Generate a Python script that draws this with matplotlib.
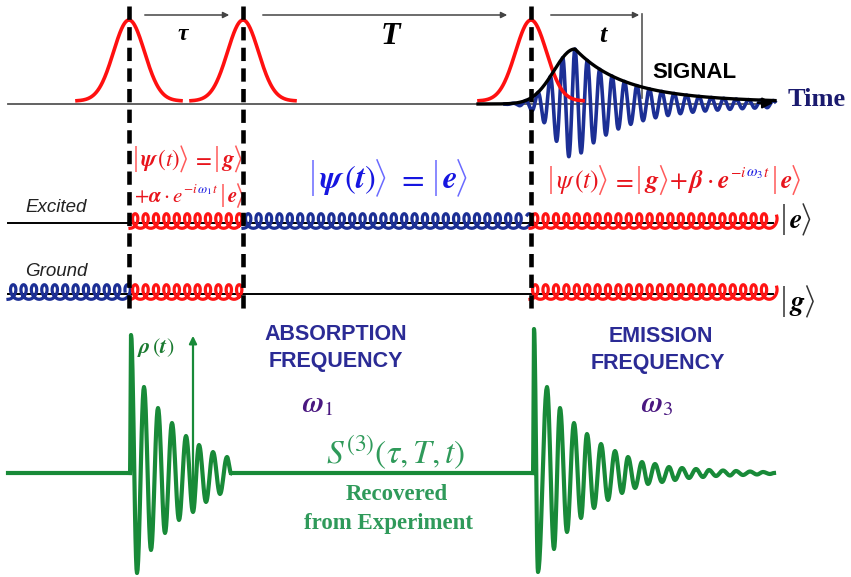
import numpy as np
import matplotlib
matplotlib.use("Agg")
import matplotlib.pyplot as plt
from matplotlib.mathtext import MathTextParser

plt.rcParams['mathtext.fontset'] = 'stix'

# ---------------- data (pixel units) ----------------
pulse_centers = [129, 243, 531]          # pump / probe / local-oscillator pulse centres
pulse_peak_y = 20
pulse_base_y = 101
pulse_sigma = 15.5
pulse_halfspan = 52

delay_labels = ["τ", "T", "t"]
delay_arrows = [(142, 232), (260, 510), (548, 642)]

signal_peak_x = 575
signal_peak_amp = 55
signal_period = 12.4

level_names = ["Excited", "Ground"]
level_y = [223, 294]
coil_segments = [  # (x0, x1, level index, colour key)
    (8, 130, 1, "blue"),
    (130, 243, 0, "red"),
    (130, 243, 1, "red"),
    (243, 530, 0, "blue"),
    (530, 773, 0, "red"),
    (530, 773, 1, "red"),
]

# green response curves: extrema (x, y)
rho1_x = [130, 131, 137, 144, 151, 158, 165, 172, 179, 186, 193, 199, 206, 213, 220, 227, 231]
rho1_y = [473, 335, 573, 387, 550, 408, 533, 423, 520, 436, 512, 445, 502, 452, 494, 457, 473]

rho3_x = [533, 534, 538, 547, 554, 560, 567, 574, 581, 587, 594, 601, 608, 615, 622, 628,
          635, 642, 648, 655, 662, 669, 675, 682, 689, 696, 703, 709, 716, 723, 730, 736,
          743, 750, 757, 763, 770, 774]
rho3_y = [473, 329, 572, 387, 549, 408, 532, 423, 518, 434, 508, 444, 500, 451, 493, 457,
          488, 462, 484, 464, 482, 467, 480, 468, 478, 469, 477, 470, 476, 470.5, 475.5, 471,
          475, 471.5, 474.5, 472, 474, 473]

# ---------------- helpers ----------------
def mt_ok(s):
    try:
        MathTextParser('path').parse(s)
        return True
    except Exception:
        return False

BS = r'\boldsymbol' if mt_ok(r'$\boldsymbol{\psi}$') else r'\mathbf'

RED = '#e8141c'
LRED = '#ff5a5a'
BLUE_EQ = '#1616e0'
LBLUE = '#6a6aff'
NAVY = '#1c2f95'
GREEN = '#188a38'
LGREEN = '#2f9a5a'
PURPLE = '#4a1880'

fig = plt.figure(figsize=(8.51, 5.77), dpi=100)
ax = fig.add_axes([0, 0, 1, 1])
ax.set_xlim(0, 851)
ax.set_ylim(577, 0)
ax.axis('off')
renderer = fig.canvas.get_renderer()


def pieces(x, y, parts, size, color, light):
    """parts: strings (mathtext), 'BAR', 'ANG', 'SP', or tuples (s, color, size, dy)."""
    fpx = size * 100 / 72.0
    for p in parts:
        if p == 'BAR':
            ax.plot([x + 2, x + 2], [y + 0.24 * fpx, y - 0.86 * fpx], color=light, lw=1.1,
                    solid_capstyle='butt')
            x += 0.26 * fpx
        elif p == 'ANG':
            ax.plot([x + 1, x + 0.26 * fpx, x + 1], [y + 0.24 * fpx, y - 0.31 * fpx, y - 0.86 * fpx],
                    color=light, lw=1.1)
            x += 0.36 * fpx
        elif p == 'SP':
            x += 0.14 * fpx
        else:
            if isinstance(p, tuple):
                s, c, sz, dy = p
            else:
                s, c, sz, dy = p, color, size, 0
            t = ax.text(x, y + dy, s, color=c, fontsize=sz, ha='left', va='baseline')
            x += t.get_window_extent(renderer).width


def smooth_through(xs, ys, n=12):
    X, Y = [], []
    for i in range(len(xs) - 1):
        s = np.linspace(0, 1, n, endpoint=False)
        w = (1 - np.cos(np.pi * s)) / 2
        X.append(xs[i] + (xs[i + 1] - xs[i]) * s)
        Y.append(ys[i] + (ys[i + 1] - ys[i]) * w)
    X.append([xs[-1]]); Y.append([ys[-1]])
    return np.concatenate(X), np.concatenate(Y)


def coil(x0, x1, yc, pitch=10.4, rx=5.0, ry=7.3):
    n = (x1 - x0) / pitch
    th = np.linspace(0, 2 * np.pi * n, int(n * 60))
    x = x0 + pitch * th / (2 * np.pi) + rx * np.sin(th)
    y = yc + ry * np.cos(th)
    return x, y


def envelope(x):
    d = x - signal_peak_x
    rise = np.exp(-0.5 * (d / 21.0) ** 2)
    fall = 0.8 * np.exp(-d / 45.0) + 0.2 * np.exp(-d / 150.0)
    return signal_peak_amp * np.where(d < 0, rise, fall)

# ---------------- top: pulse sequence ----------------
ax.plot([8, 762], [104, 104], color='#555555', lw=1.3, zorder=2)
ax.annotate('', xy=(776, 103), xytext=(755, 103),
            arrowprops=dict(arrowstyle='-|>', color='black', lw=1.5, mutation_scale=16), zorder=6)
ax.text(788, 99, "Time", fontsize=19, fontweight='bold', family='Liberation Serif',
        color='#1a1a6e', va='center', ha='left')

xs = np.linspace(505, 775, 1500)
env = envelope(xs)
ax.plot(xs, 104 - env * np.cos(2 * np.pi * (xs - signal_peak_x) / signal_period),
        color=NAVY, lw=2.6, zorder=3)
xe = np.linspace(478, 775, 400)
ax.plot(xe, 104 - envelope(xe), color='black', lw=2.4, zorder=5)

for c in pulse_centers:
    xp = np.linspace(c - pulse_halfspan, c + pulse_halfspan, 200)
    ax.plot(xp, pulse_base_y - (pulse_base_y - pulse_peak_y) * np.exp(-0.5 * ((xp - c) / pulse_sigma) ** 2),
            color='#ff1010', lw=2.6, zorder=4)

for (a, b) in delay_arrows:
    ax.annotate('', xy=(b, 15), xytext=(a, 15),
                arrowprops=dict(arrowstyle='-|>', color='#444444', lw=1.1, mutation_scale=9))
ax.plot([642, 642], [14, 98], color='#555555', lw=1.2)
ax.text(183, 34, delay_labels[0], fontsize=17, fontweight='bold', style='italic',
        family='Liberation Serif', ha='center', va='center')
ax.text(390, 37, delay_labels[1], fontsize=23, fontweight='bold', style='italic',
        family='Liberation Serif', ha='center', va='center')
ax.text(603, 35, delay_labels[2], fontsize=19, fontweight='bold', style='italic',
        family='Liberation Serif', ha='center', va='center')
ax.text(694, 72, "SIGNAL", fontsize=16, fontweight='bold', family='Liberation Sans',
        ha='center', va='center')

# dashed pulse markers
for c in pulse_centers:
    ax.plot([c, c], [6, 313], color='black', lw=3.3, linestyle=(0, (2.9, 1.6)), zorder=8)

# ---------------- middle: levels ----------------
for name, ly in zip(level_names, level_y):
    ax.plot([8, 773], [ly, ly], color='black', lw=1.4, zorder=2)
ax.text(25, 208, level_names[0], fontsize=13.5, style='italic', family='Liberation Sans',
        color='#222222', va='center')
ax.text(25, 272, level_names[1], fontsize=13.5, style='italic', family='Liberation Sans',
        color='#222222', va='center')
cols = {"blue": NAVY, "red": '#ff1414'}
for x0, x1, li, ck in coil_segments:
    cx, cy = coil(x0, x1, level_y[li] - 2)
    ax.plot(cx, cy, color=cols[ck], lw=2.3, zorder=3)

# equations
PSI_B = rf"${BS}{{\psi}}\,(t)$"
E = rf"${BS}{{e}}$"
G = rf"${BS}{{g}}$"
pieces(134, 166, ['BAR', PSI_B, 'ANG', 'SP', r"$=$", 'SP', 'BAR', G, 'ANG'], 16.5, RED, LRED)
pieces(134, 202, [rf"$+{BS}{{\alpha}}\cdot e$",
                  (r"$-i$", RED, 9.5, -9),
                  (rf"${BS}{{\omega_1}}$", BLUE_EQ, 9.5, -9),
                  (r"$t$", RED, 9.5, -9), 'SP',
                  'BAR', E, 'ANG'], 15, RED, LRED)
pieces(311, 188, ['BAR', rf"${BS}{{\psi}}\,({BS}{{t}})$", 'ANG', 'SP', 'SP', r"$=$", 'SP', 'SP',
                  'BAR', E, 'ANG'], 23.5, BLUE_EQ, LBLUE)
pieces(549, 188, ['BAR', r"$\psi\,(t)$", 'ANG', 'SP', r"$=$", 'SP', 'BAR', G, 'ANG',
                  rf"$+\,{BS}{{\beta}}\cdot {BS}{{e}}$",
                  (r"$-i$", RED, 11, -11),
                  (rf"${BS}{{\omega_3}}$", BLUE_EQ, 11, -11),
                  (r"$t$", RED, 11, -11), 'SP',
                  'BAR', E, 'ANG'], 18.5, RED, LRED)
pieces(782, 228, ['BAR', E, 'ANG'], 20, 'black', '#333333')
pieces(782, 310, ['BAR', G, 'ANG'], 20, 'black', '#333333')

# ---------------- bottom: green response ----------------
ax.plot([8, 130], [473, 473], color=GREEN, lw=3.0)
ax.plot([231, 533], [473, 473], color=GREEN, lw=3.0)
gx, gy = smooth_through(rho1_x, rho1_y)
ax.plot(gx, gy, color=GREEN, lw=3.0)
gx, gy = smooth_through(rho3_x, rho3_y)
ax.plot(gx, gy, color=GREEN, lw=3.0)
ax.annotate('', xy=(193, 333), xytext=(193, 512),
            arrowprops=dict(arrowstyle='-|>', color=GREEN, lw=1.6, mutation_scale=11))
ax.text(137, 353, rf"${BS}{{\rho}}\,({BS}{{t}})$", color='#1a7a30', fontsize=16,
        ha='left', va='baseline')

ax.text(336, 334, "ABSORPTION", fontsize=15.5, fontweight='bold', family='Liberation Sans',
        color='#2b2b95', ha='center', va='center')
ax.text(336, 362, "FREQUENCY", fontsize=15.5, fontweight='bold', family='Liberation Sans',
        color='#2b2b95', ha='center', va='center')
ax.text(661, 336, "EMISSION", fontsize=15.5, fontweight='bold', family='Liberation Sans',
        color='#2b2b95', ha='center', va='center')
ax.text(658, 363, "FREQUENCY", fontsize=15.5, fontweight='bold', family='Liberation Sans',
        color='#2b2b95', ha='center', va='center')
ax.text(318, 404, rf"${BS}{{\omega}}_1$", fontsize=21, color=PURPLE, ha='center', va='center')
ax.text(657, 404, rf"${BS}{{\omega}}_3$", fontsize=21, color=PURPLE, ha='center', va='center')

ax.text(396, 463, r"$S^{(3)}(\tau,T,t)$", fontsize=24, color=LGREEN, ha='center', va='baseline')
ax.text(397, 494, "Recovered", fontsize=16.5, fontweight='bold', family='Liberation Serif',
        color=LGREEN, ha='center', va='center')
ax.text(388, 523, "from Experiment", fontsize=16.5, fontweight='bold', family='Liberation Serif',
        color=LGREEN, ha='center', va='center')

fig.savefig("out.png", dpi=100)
